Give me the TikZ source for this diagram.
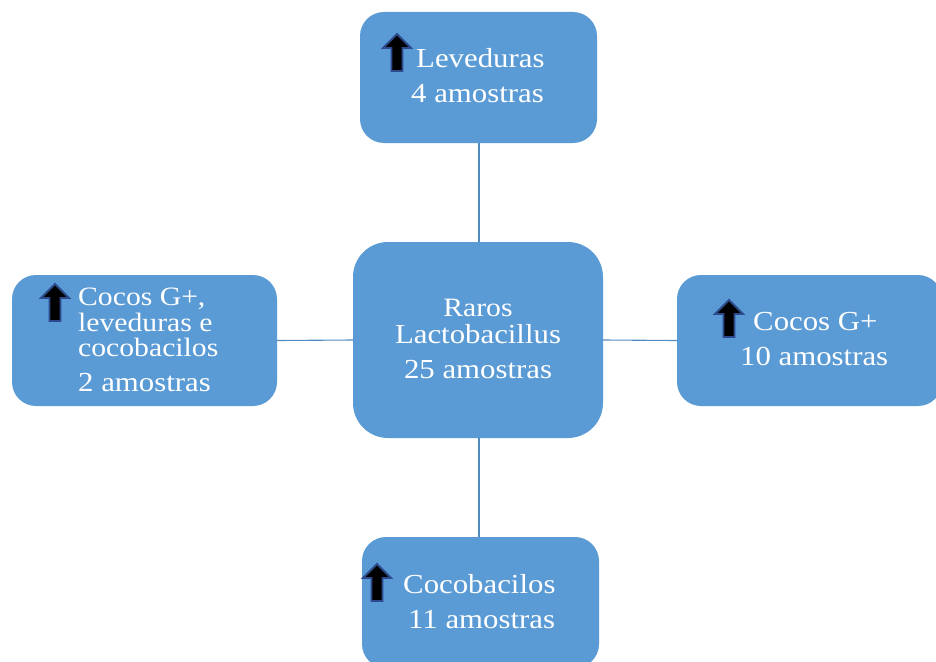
\documentclass[tikz,border=0pt]{standalone}
\usepackage{fontspec}
\setmainfont{Liberation Serif}[FakeStretch=1.12]
\definecolor{boxblue}{RGB}{91,155,213}
\definecolor{arrowedge}{RGB}{45,75,140}
\begin{document}
\begin{tikzpicture}[x=1pt,y=-1pt,
  box/.style={fill=boxblue, draw=none, rounded corners=24pt, inner sep=0pt},
  conn/.style={draw=boxblue!90!black, line width=1.1pt},
  lbl/.style={anchor=base west, text=white, inner sep=0pt, text height=18pt, text depth=5pt,
     font=\fontsize{27.5}{30}\selectfont},
  small/.style={font=\fontsize{26.5}{29}\selectfont},
  uparr/.pic={\filldraw[fill=black, draw=arrowedge, line width=1.8pt, line join=miter]
     (-5.5,0) -- (-5.5,-23) -- (-14,-23) -- (0,-37) -- (14,-23) -- (5.5,-23) -- (5.5,0) -- cycle;}
]
\useasboundingbox (0,0) rectangle (936,661);
\clip (0,0) rectangle (936,661);
\fill[white] (0,0) rectangle (936,661);

% boxes
\node[box, minimum width=237pt, minimum height=131pt] (top) at (478.5,77.5) {};
\node[box, rounded corners=35pt, minimum width=250pt, minimum height=196pt] (mid) at (478,340) {};
\node[box, minimum width=265pt, minimum height=131pt] (left) at (144.5,340.5) {};
\node[box, minimum width=265pt, minimum height=131pt] (right) at (809.5,340.5) {};
\node[box, minimum width=237pt, minimum height=131pt] (bot) at (480.5,602.5) {};

% connectors
\coordinate (tb) at (479,143);
\coordinate (mt) at (479,242);
\coordinate (mb) at (479,438);
\coordinate (bt) at (479,537);
\draw[conn] (tb) -- (mt);
\draw[conn] (mb) -- (bt);
\draw[conn] (left.east) -- (mid.west);
\draw[conn] (mid.east) -- (right.west);

% arrows
\pic at (397,71) {uparr};
\pic at (55,321) {uparr};
\pic at (729,337) {uparr};
\pic at (377,601) {uparr};

% texts
\node[lbl] (t1) at (416,67) {Leveduras};
\node[lbl] (t2) at (411,102) {4 amostras};

\node[lbl, small, anchor=base] (m1) at (478,316) {Raros};
\node[lbl, anchor=base] (m2) at (478,343) {Lactobacillus};
\node[lbl, anchor=base] (m3) at (478,378) {25 amostras};

\node[lbl, small] (l1) at (78,305) {Cocos G+,};
\node[lbl, small] (l2) at (78,331) {leveduras e};
\node[lbl, small] (l3) at (78,356) {cocobacilos};
\node[lbl] (l4) at (78,391) {2 amostras};

\node[lbl] (r1) at (753,330) {Cocos G+};
\node[lbl] (r2) at (740,365) {10 amostras};

\node[lbl] (b1) at (403,593) {Cocobacilos};
\node[lbl] (b2) at (408,628) {11 amostras};
\end{tikzpicture}
\end{document}
